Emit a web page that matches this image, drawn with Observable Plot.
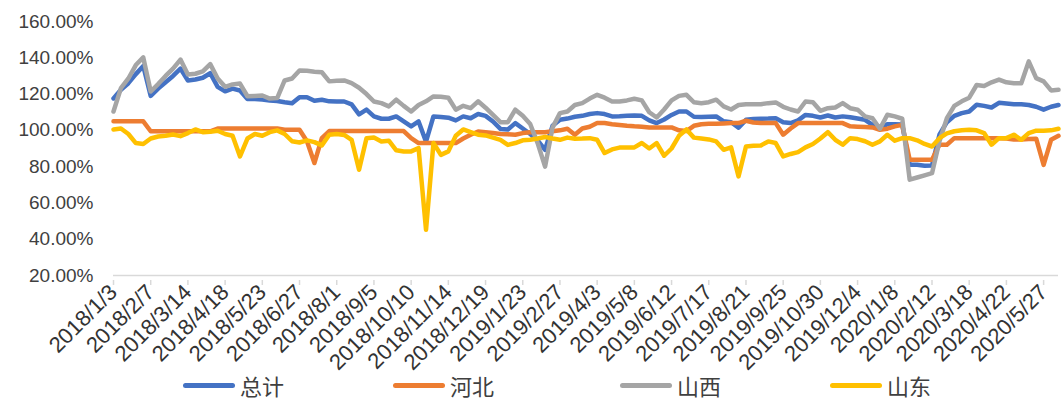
<!DOCTYPE html>
<html>
<head>
<meta charset="utf-8">
<script src="https://cdn.jsdelivr.net/npm/d3@7"></script>
<script src="https://cdn.jsdelivr.net/npm/@observablehq/plot@0.6"></script>
<style>
  html, body { margin: 0; padding: 0; background: #fff; }
  #wrap { position: relative; width: 1061px; height: 401px; overflow: hidden; }
  .leg { position: absolute; top: 372px; height: 26px; display: flex; align-items: center;
         font-family: "Noto Sans CJK SC", sans-serif; font-size: 22px; color: #404040; }
  .sw { display: inline-block; width: 52px; height: 5px; border-radius: 3px; margin-right: 5px; }
</style>
</head>
<body>
<div id="wrap"></div>
<script>
// ---- data ----
const startDate = "2018-01-03";   // first weekly observation
const weekCount = 128;            // weekly categories up to 2020/6/10
const tickLabels = ["2018/1/3","2018/2/7","2018/3/14","2018/4/18","2018/5/23","2018/6/27","2018/8/1","2018/9/5","2018/10/10","2018/11/14","2018/12/19","2019/1/23","2019/2/27","2019/4/3","2019/5/8","2019/6/12","2019/7/17","2019/8/21","2019/9/25","2019/10/30","2019/12/4","2020/1/8","2020/2/12","2020/3/18","2020/4/22","2020/5/27"];
const seriesNames = ["总计", "河北", "山西", "山东"];
const seriesColors = ["#4472C4", "#ED7D31", "#A5A5A5", "#FFC000"];
const yTicks = [20, 40, 60, 80, 100, 120, 140, 160];

const total = [117.6,122.4,126,131,135.5,119,123,126.5,130,134,
127.5,128,129,131.5,124,121.5,123,122,117.3,117.3,
117,116.5,116.2,115.5,115,118.3,118.3,116.3,116.9,116,
115.9,115.9,114.3,108.8,111.4,107.7,106.4,106.4,107.7,105,
102.2,104.9,93.8,107.7,107.4,107,105.5,107.7,106.7,109,
108,104.9,100.8,100.5,104,101,98,94.5,89.3,102.5,
105.8,106.5,107.5,108,109,109.5,109,107.7,107.8,108,
108.2,108,105.5,104,106,108.5,110.4,110.4,107.5,107.3,
107.5,107.7,105,104.5,101.5,105.8,106.2,106.4,106.5,106.7,
104.5,104,105.5,108.5,108,107.1,108.2,107.1,107.7,107.2,
106.5,105.8,103,100.9,103.4,103.4,103.2,81,81,80.5,
80.6,97.6,104.5,108,109.5,110.4,114.1,113.5,112.6,115.2,
114.8,114.4,114.4,114,113,111.4,113,114];

const hebei = [105,105,105,105,105,99.5,99.5,99.5,99.5,99.5,
99.5,99.5,99.5,99.5,101,101,101,101,101,101,
101,101,101,100.3,100.3,100.3,94,82,95.7,99.6,
99.6,99.6,99.6,99.6,99.6,99.6,99.6,99.6,99.6,99.6,
95.7,93,93,93,93,93,93,95.5,97.6,99.4,
99,98.5,98,97.8,97.6,98.5,99,99,99,99.5,
100,100.9,97.6,101,102,104,104,103.4,103,102.5,
102.2,102,101.6,101.6,101.6,101.6,100,99.6,102.5,103.4,
103.6,103.6,103.8,104,104,105.3,104.3,104,104,104,
97.6,101,104,104,104,104,104,104,104,102.2,
102,101.8,101.6,100.3,100.9,102.2,103,83.8,83.8,83.8,
83.8,92.1,92.1,95.7,95.7,95.7,95.7,95.7,95.7,95.7,
95.5,95,95,95.2,95.4,81,94.8,97];

const shanxi = [110.4,123.3,128.6,136,140.2,121.4,125.5,130,134,139,
130.8,131.2,132.5,136.5,128.6,124,125.3,125.8,118.8,119,
119.2,117.5,117.8,127.5,128.6,133,132.8,132.3,132,127,
127.3,127.5,126,123.5,120,115.9,115,113.2,116.9,113.5,
110.4,114,116,118.7,118.5,118,111.4,113.5,112.2,116,
112.5,108.5,104.5,104.5,111.4,108,103.5,93,80,101.5,
109.5,110.4,114,115,117.5,119.6,118,115.9,115.9,116.5,
117.4,116.5,110,107.1,111.5,116.5,119,119.6,115.5,115,
115.5,116.9,113.2,111.5,114,114.4,114.4,114.4,115,115.4,
113,111.5,110.4,115.9,115.5,110.8,112.2,112.6,115,112.2,
111.4,107.7,106.7,100.9,108.6,107.7,106.4,72.8,74,75.2,
76.4,94,106.7,113.5,116,118,125,124.5,126.5,128,
126.5,126,126,138,128.8,127,122,122.4];

const shandong = [100.5,101,98,93,92.5,95.5,96.6,97,97.7,96.8,
98.5,100.5,99,99.2,99.8,98,97,85.6,95.5,98,
97,99,100,98,94,93.3,94.5,93.5,91.7,97.6,
98,97.5,94.8,78.3,95.7,96,93.9,94.3,89,88.4,
88.4,90.2,45.2,93,86.5,88.4,97,100.5,99,97.6,
97.2,96,94.8,92,93,94.5,94.8,95.5,96.3,95.5,
94.8,96,95.4,95.5,95.7,94.8,87.5,89.5,90.5,90.6,
90.6,93,90,93,86,90,97,100.5,96,95.5,
95,93.9,89.3,90.6,74.6,91.1,91.5,91.7,93.9,93,
85.6,87,88,90.6,92.5,95.5,99,94.8,92.1,95.7,
95.2,94,92.1,93.9,97.6,94.3,95.7,95.7,94.5,92.5,
91.1,95.7,98.3,99.5,100,100.3,100,98.5,92.1,95.7,
95.7,97.6,94.8,98.5,99.8,99.8,100,100.9];

// ---- build table ----
const fmtDate = d => `${d.getUTCFullYear()}/${d.getUTCMonth() + 1}/${d.getUTCDate()}`;
const start = new Date(startDate + "T00:00:00Z");
const dates = d3.range(weekCount).map(i => fmtDate(d3.utcDay.offset(start, 7 * i)));
const seriesValues = [total, hebei, shanxi, shandong];
const rows = [];
seriesNames.forEach((name, s) => {
  seriesValues[s].forEach((v, i) => rows.push({series: name, date: dates[i], value: v}));
});

const W = 1061, H = 372;
const font = '"Liberation Sans", Arial, sans-serif';

const chart = Plot.plot({
  width: W,
  height: H,
  marginLeft: 113,
  marginRight: 3,
  marginTop: 21,
  marginBottom: H - 275,
  style: {fontFamily: font, fontSize: "19px", color: "#404040", background: "#fff", overflow: "visible"},
  x: {type: "point", domain: dates, padding: 0, axis: null},
  y: {domain: [20, 160], axis: null},
  color: {domain: seriesNames, range: seriesColors},
  marks: [
    Plot.axisY({ticks: yTicks, tickSize: 0, tickPadding: 20, tickFormat: d => d.toFixed(2) + "%",
                fill: "#404040", fontSize: 19, label: null}),
    Plot.ruleY([20], {stroke: "#d9d9d9", strokeWidth: 1.5}),
    Plot.axisX({ticks: tickLabels, tickSize: 5, stroke: "#d9d9d9", strokeWidth: 1.5, fill: "#333",
                tickRotate: -45, tickPadding: 3, textAnchor: "end", fontSize: 22, dx: 0, dy: 5, label: null}),
    ...seriesNames.map((name, s) =>
      Plot.line(rows.filter(r => r.series === name), {
        x: "date", y: "value", stroke: seriesColors[s], strokeWidth: 4.5,
        strokeLinejoin: "round", strokeLinecap: "round"
      })
    )
  ]
});

const wrap = document.getElementById("wrap");
wrap.appendChild(chart);

// legend below the svg
const legendX = [183, 393, 620, 830];
seriesNames.forEach((name, s) => {
  const item = document.createElement("div");
  item.className = "leg";
  item.style.left = legendX[s] + "px";
  item.innerHTML = `<span class="sw" style="background:${seriesColors[s]}"></span><span>${name}</span>`;
  wrap.appendChild(item);
});
</script>
</body>
</html>
